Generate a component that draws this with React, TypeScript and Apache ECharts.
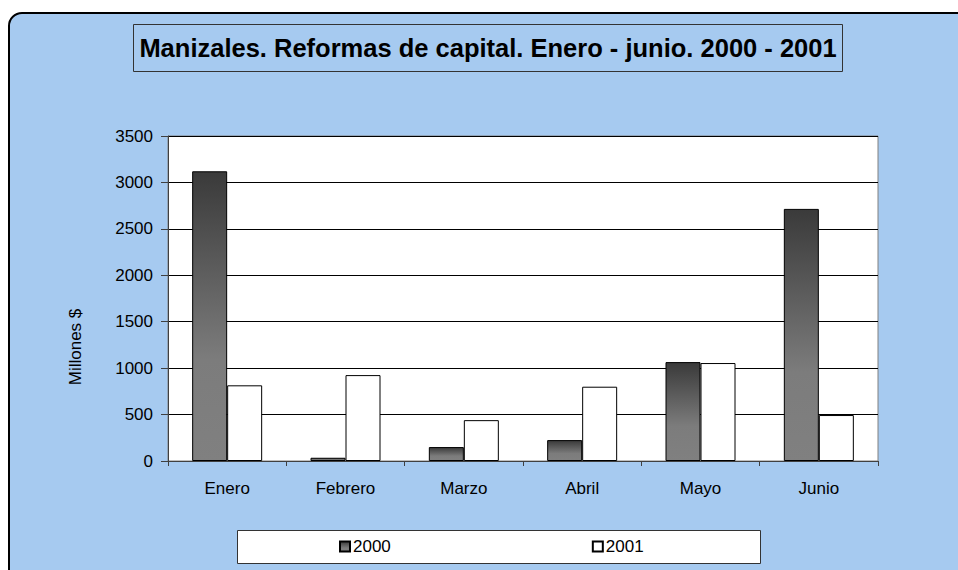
import React, { useEffect, useRef } from "react";
import * as echarts from "echarts";

const categories = ["Enero", "Febrero", "Marzo", "Abril", "Mayo", "Junio"];
const series2000 = [3120, 35, 150, 225, 1065, 2715];
const series2001 = [815, 925, 440, 800, 1055, 495];
const yTicks = { min: 0, max: 3500, interval: 500 };
const titleText = "Manizales. Reformas de capital. Enero - junio. 2000 - 2001";
const yName = "Millones $";

export default function App() {
  const ref = useRef<HTMLDivElement>(null);
  useEffect(() => {
    document.body.style.margin = "0";
    const chart = echarts.init(ref.current!, null, { renderer: "svg" });
    const font = "Arial, 'Liberation Sans', sans-serif";
    const grad = new echarts.graphic.LinearGradient(0, 0, 0, 1, [
      { offset: 0, color: "#3a3a3a" },
      { offset: 0.65, color: "#7c7c7c" },
      { offset: 1, color: "#808080" },
    ]);
    chart.setOption({
      animation: false,
      textStyle: { fontFamily: font },
      grid: {
        left: 168,
        top: 136,
        right: 80,
        bottom: 109,
        show: true,
        backgroundColor: "#ffffff",
        borderColor: "#808080",
        borderWidth: 1,
      },
      graphic: [
        {
          type: "rect",
          z: 0,
          shape: { x: 133.5, y: 24.5, width: 709, height: 47 },
          style: { fill: "none", stroke: "#333333", lineWidth: 1 },
        },
        {
          type: "text",
          z: 1,
          x: 488,
          y: 48,
          style: {
            text: titleText,
            font: `bold 25.5px ${font}`,
            fill: "#000",
            align: "center",
            verticalAlign: "middle",
          },
        },
        {
          type: "text",
          z: 1,
          x: 75,
          y: 347,
          rotation: Math.PI / 2,
          style: {
            text: yName,
            font: `17px ${font}`,
            fill: "#000",
            align: "center",
            verticalAlign: "middle",
          },
        },
        {
          type: "rect",
          z: 0,
          shape: { x: 237.5, y: 530.5, width: 523, height: 33 },
          style: { fill: "#ffffff", stroke: "#333333", lineWidth: 1 },
        },
      ],
      legend: {
        z: 10,
        left: 339,
        top: 538,
        padding: 0,
        itemWidth: 10,
        itemHeight: 10,
        itemGap: 201,
        icon: "rect",
        textStyle: { fontSize: 17, color: "#000", fontFamily: font, padding: [0, 0, 0, -2] },
        data: ["2000", "2001"],
      },
      xAxis: {
        type: "category",
        data: categories,
        axisLine: { lineStyle: { color: "#404040", width: 1 } },
        axisTick: { show: true, alignWithLabel: false, length: 5, lineStyle: { color: "#404040" } },
        axisLabel: { fontSize: 17, color: "#000", margin: 19, fontFamily: font },
      },
      yAxis: {
        type: "value",
        min: yTicks.min,
        max: yTicks.max,
        interval: yTicks.interval,
        axisLine: { show: true, lineStyle: { color: "#404040", width: 1 } },
        axisTick: { show: true, length: 7, lineStyle: { color: "#404040" } },
        axisLabel: {
          fontSize: 17,
          color: "#000",
          margin: 15,
          fontFamily: font,
          formatter: (v: number) => String(v),
        },
        splitLine: { lineStyle: { color: "#000000", width: 1 } },
      },
      series: [
        {
          name: "2000",
          type: "bar",
          data: series2000,
          barWidth: 35,
          barGap: "0%",
          itemStyle: { color: grad, borderColor: "#000", borderWidth: 1 },
        },
        {
          name: "2001",
          type: "bar",
          data: series2001,
          barWidth: 35,
          barGap: "0%",
          itemStyle: { color: "#ffffff", borderColor: "#000", borderWidth: 1 },
        },
      ],
    });
    return () => chart.dispose();
  }, []);
  return (
    <div style={{ position: "relative", width: 958, height: 570, background: "#fff", overflow: "hidden" }}>
      <div
        style={{
          position: "absolute",
          left: 8,
          top: 12,
          width: 1000,
          height: 620,
          border: "2.5px solid #000",
          borderRadius: 14,
          background: "#a6caf0",
          boxSizing: "border-box",
        }}
      />
      <div ref={ref} style={{ position: "absolute", left: 0, top: 0, width: 958, height: 570 }} />
    </div>
  );
}
